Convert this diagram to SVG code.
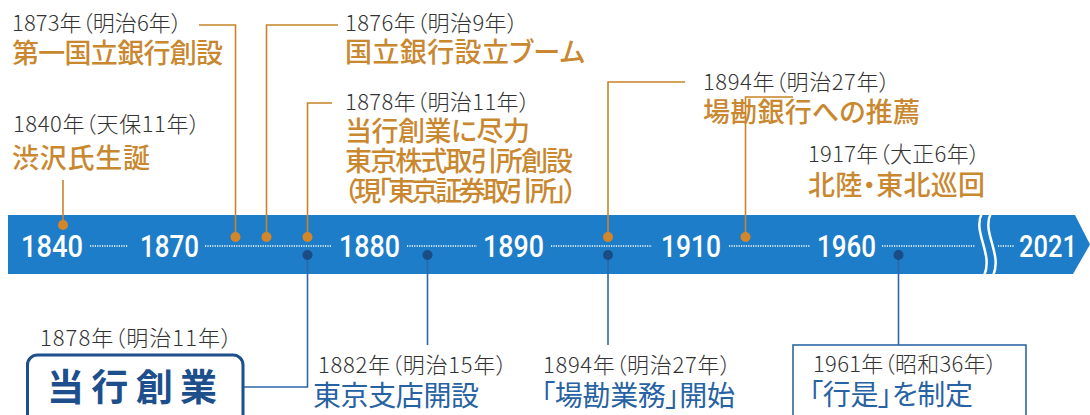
<svg xmlns="http://www.w3.org/2000/svg" width="1090" height="415" viewBox="0 0 1090 415">
<style>
.yr{font-family:"Noto Sans CJK JP","Noto Sans",sans-serif;font-size:22px;font-weight:300;fill:#333;font-feature-settings:"palt";}
.ot{font-family:"Noto Sans CJK JP","Noto Sans",sans-serif;font-size:27px;font-weight:500;fill:#c98830;font-feature-settings:"palt";}
.bt{font-family:"Noto Sans CJK JP","Noto Sans",sans-serif;font-size:28px;font-weight:400;fill:#2762a3;font-feature-settings:"palt";}
.band{font-family:Roboto,"Noto Sans",sans-serif;font-size:32px;font-weight:500;fill:#fff;}
.ol{stroke:#c8842a;stroke-width:1.6;fill:none;}
.bl{stroke:#2c68a3;stroke-width:1.6;fill:none;}
.dot{stroke:#fff;stroke-width:1.6;stroke-dasharray:1.2 1.2;fill:none;}
.od{fill:#d4862a;}
.bd{fill:#1a4c85;}
</style>
<rect width="1090" height="415" fill="#fff"/>
<g id="band">
<path d="M8 215 H1075 L1090 244.5 L1073 274 H8 Z" fill="#1e7dc8"/>
<path d="M982 213 C972 232,994 254,984 276" stroke="#fff" stroke-width="2.5" fill="none"/>
<path d="M991 213 C981 232,1003 254,993 276" stroke="#fff" stroke-width="2.5" fill="none"/>
<g class="dotlines">
<path class="dot" d="M90 246 H128"/>
<path class="dot" d="M205 246 H332"/>
<path class="dot" d="M407 246 H477"/>
<path class="dot" d="M551 246 H652"/>
<path class="dot" d="M729 246 H810"/>
<path class="dot" d="M882 246 H975"/>
<path class="dot" d="M998 246 H1014"/>
</g>
<text class="band" x="21" y="257" textLength="62" lengthAdjust="spacingAndGlyphs">1840</text>
<text class="band" x="140" y="257" textLength="59" lengthAdjust="spacingAndGlyphs">1870</text>
<text class="band" x="339" y="257" textLength="61" lengthAdjust="spacingAndGlyphs">1880</text>
<text class="band" x="483" y="257" textLength="61" lengthAdjust="spacingAndGlyphs">1890</text>
<text class="band" x="661" y="257" textLength="60" lengthAdjust="spacingAndGlyphs">1910</text>
<text class="band" x="817" y="257" textLength="59" lengthAdjust="spacingAndGlyphs">1960</text>
<text class="band" x="1019" y="257" textLength="58" lengthAdjust="spacingAndGlyphs">2021</text>
</g>
<g id="connectors">
<path class="ol" d="M63 180 V225"/>
<path class="ol" d="M199 25 H235.5 V237"/>
<path class="ol" d="M338 25 H266.5 V237"/>
<path class="ol" d="M332 103 H307.5 V237"/>
<path class="ol" d="M685 82 H608 V237"/>
<path class="ol" d="M793 97 H745.5 V237"/>
<path class="bl" d="M307.5 255 V387 H243"/>
<path class="bl" d="M427.5 255 V345"/>
<path class="bl" d="M608 255 V345"/>
<path class="bl" d="M898.5 255 V345"/>
<circle class="od" cx="63" cy="225" r="5"/>
<circle class="od" cx="235.5" cy="237" r="5"/>
<circle class="od" cx="266.5" cy="237" r="5"/>
<circle class="od" cx="307.5" cy="237" r="5"/>
<circle class="od" cx="608" cy="237" r="5"/>
<circle class="od" cx="745.5" cy="237" r="5"/>
<circle class="bd" cx="307.5" cy="255" r="5"/>
<circle class="bd" cx="427.5" cy="255" r="5"/>
<circle class="bd" cx="608" cy="255" r="5"/>
<circle class="bd" cx="898.5" cy="255" r="5"/>
</g>
<g id="e1840">
<text class="yr" x="13" y="132" textLength="187">1840年（天保11年）</text>
<text class="ot" x="12" y="168" textLength="138">渋沢氏生誕</text>
</g>
<g id="e1873">
<text class="yr" x="12" y="31" textLength="170">1873年（明治6年）</text>
<text class="ot" x="12" y="63" textLength="211">第一国立銀行創設</text>
</g>
<g id="e1876">
<text class="yr" x="345" y="31" textLength="173">1876年（明治9年）</text>
<text class="ot" x="345" y="62" textLength="240">国立銀行設立ブーム</text>
</g>
<g id="e1878top">
<text class="yr" x="345" y="110" textLength="185">1878年（明治11年）</text>
<text class="ot" x="345" y="141" textLength="185">当行創業に尽力</text>
<text class="ot" x="345" y="171" textLength="228">東京株式取引所創設</text>
<text class="ot" x="344" y="201" textLength="233">（現「東京証券取引所」）</text>
</g>
<g id="e1894top">
<text class="yr" x="703" y="90" textLength="187">1894年（明治27年）</text>
<text class="ot" x="703" y="122" textLength="217">場勘銀行への推薦</text>
</g>
<g id="e1917">
<text class="yr" x="808" y="162" textLength="172">1917年（大正6年）</text>
<text class="ot" x="808" y="195" textLength="177">北陸・東北巡回</text>
</g>
<g id="e1878">
<text class="yr" x="40" y="346" textLength="192">1878年（明治11年）</text>
<rect x="27.5" y="355" width="215.5" height="80" rx="10" fill="#fff" stroke="#1d4f8c" stroke-width="3"/>
<text x="47" y="401" textLength="170" style="font-family:'Noto Sans CJK JP',sans-serif;font-size:37px;font-weight:700;fill:#1d4f8c;">当行創業</text>
</g>
<g id="e1882">
<text class="yr" x="318" y="373" textLength="189">1882年（明治15年）</text>
<text class="bt" x="313" y="406" textLength="166">東京支店開設</text>
</g>
<g id="e1894">
<text class="yr" x="543" y="373" textLength="188">1894年（明治27年）</text>
<text class="bt" x="541" y="406" textLength="194">「場勘業務」開始</text>
</g>
<g id="e1961">
<rect x="793" y="345" width="233" height="85" fill="#fff" stroke="#2c68a3" stroke-width="1.6"/>
<text class="yr" x="813" y="372" textLength="184">1961年（昭和36年）</text>
<text class="bt" x="809" y="405" textLength="164">「行是」を制定</text>
</g>
</svg>
